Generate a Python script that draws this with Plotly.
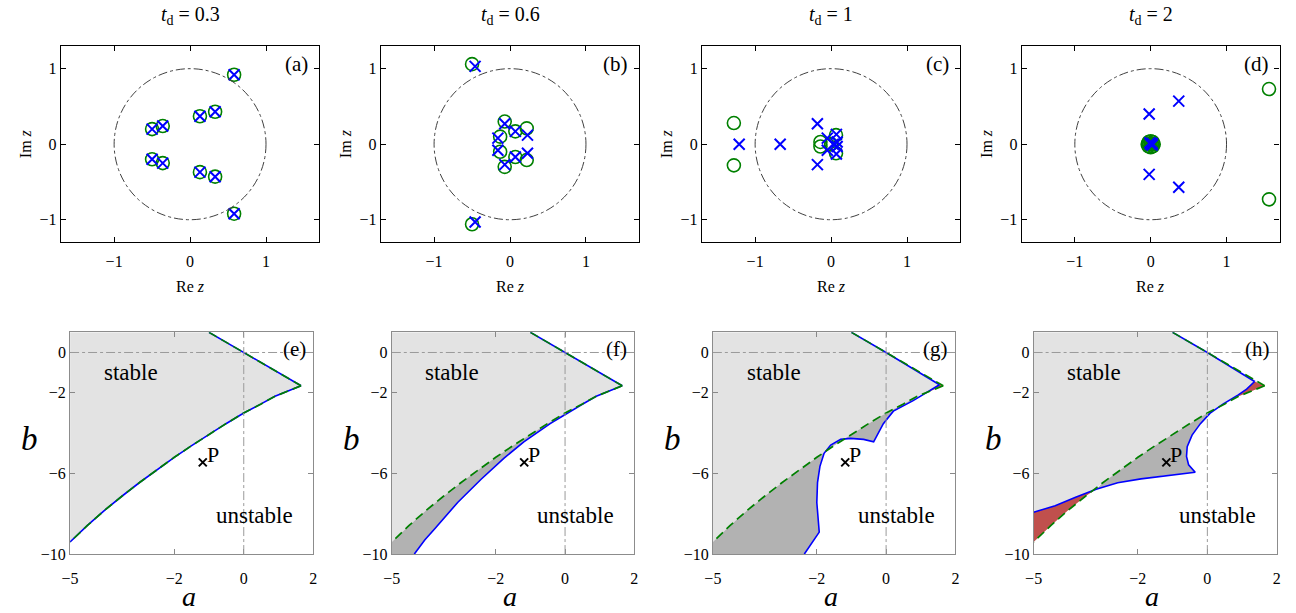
import plotly.graph_objects as go

W, H = 1296, 613
FONT = "Liberation Serif, Times New Roman, DejaVu Serif, serif"

# ---------------- data ----------------
td_values = ["0.3", "0.6", "1", "2"]
tags_top = ["(a)", "(b)", "(c)", "(d)"]
tags_bot = ["(e)", "(f)", "(g)", "(h)"]

# panel (a) t_d = 0.3 : zeros and poles coincide
zeros_a_re = [0.58, 0.33, 0.13, -0.36, -0.50, -0.50, -0.36, 0.13, 0.33, 0.58]
zeros_a_im = [0.92, 0.43, 0.37, 0.24, 0.20, -0.20, -0.25, -0.37, -0.43, -0.92]
poles_a_re = [0.58, 0.33, 0.13, -0.36, -0.50, -0.50, -0.36, 0.13, 0.33, 0.58]
poles_a_im = [0.92, 0.43, 0.37, 0.24, 0.20, -0.20, -0.25, -0.37, -0.43, -0.92]

# panel (b) t_d = 0.6
zeros_b_re = [-0.50, -0.07, 0.07, 0.22, -0.13, -0.13, 0.22, 0.07, -0.07, -0.50]
zeros_b_im = [1.06, 0.30, 0.17, 0.21, 0.10, -0.10, -0.21, -0.17, -0.30, -1.06]
poles_b_re = [-0.46, -0.07, 0.07, 0.23, -0.16, -0.16, 0.23, 0.07, -0.07, -0.46]
poles_b_im = [1.03, 0.27, 0.17, 0.12, 0.08, -0.08, -0.12, -0.17, -0.27, -1.03]

# panel (c) t_d = 1
zeros_c_re = [-1.28, -1.28, -0.14, -0.14, 0.065, 0.065, 0.0]
zeros_c_im = [0.28, -0.28, 0.03, -0.03, 0.12, -0.12, 0.0]
poles_c_re = [-1.21, -0.67, -0.18, -0.18, -0.05, -0.05, 0.07, 0.07, 0.03, 0.08, 0.08]
poles_c_im = [0.0, 0.0, 0.27, -0.27, 0.08, -0.08, 0.13, -0.13, 0.0, 0.03, -0.03]

# panel (d) t_d = 2
zeros_d_re = [1.56, 1.56, 0.04, 0.028, 0.0, -0.028, -0.04, -0.028, 0.0, 0.028, 0.0, 0.02, -0.02]
zeros_d_im = [0.73, -0.73, 0.0, 0.028, 0.04, 0.028, 0.0, -0.028, -0.04, -0.028, 0.0, 0.0, 0.0]
poles_d_re = [-0.02, -0.02, 0.37, 0.37, 0.0, 0.02, 0.02, -0.01]
poles_d_im = [0.40, -0.40, 0.57, -0.57, 0.0, 0.01, -0.01, 0.02]

zeros_re = [zeros_a_re, zeros_b_re, zeros_c_re, zeros_d_re]
zeros_im = [zeros_a_im, zeros_b_im, zeros_c_im, zeros_d_im]
poles_re = [poles_a_re, poles_b_re, poles_c_re, poles_d_re]
poles_im = [poles_a_im, poles_b_im, poles_c_im, poles_d_im]

# stability boundary, no-delay reference (green dashed)
green_a = [1.65, 1.3, 0.9, 0.5, 0.0, -0.5, -1.0, -1.5, -2.0, -2.5, -3.0, -3.5, -4.0, -4.5, -5.0]
green_b = [-1.65, -1.9, -2.17, -2.55, -3.0, -3.52, -4.05, -4.62, -5.2, -5.82, -6.45, -7.12, -7.82, -8.58, -9.4]
upper_a = [-1.0, 0.0, 1.65]
upper_b = [1.0, 0.0, -1.65]

# blue boundaries for each t_d
blue_e_a = green_a
blue_e_b = green_b
blue_f_a = [1.65, 1.3, 0.9, 0.5, 0.0, -0.43, -1.19, -1.76, -2.43, -3.10, -3.76, -4.05, -4.35]
blue_f_b = [-1.65, -1.9, -2.17, -2.57, -3.07, -3.53, -4.43, -5.24, -6.30, -7.44, -8.75, -9.3, -10.0]
blue_g_a = [1.54, 1.2, 0.78, 0.21, -0.08, -0.36, -0.65, -1.03, -1.31, -1.60, -1.79, -1.91, -1.98, -2.0, -1.93, -2.36]
blue_g_b = [-1.6, -1.95, -2.39, -2.91, -3.53, -4.43, -4.31, -4.26, -4.31, -4.59, -5.0, -5.65, -6.46, -7.44, -8.91, -10.0]
blue_h_a = [1.36, 1.13, 0.89, 0.46, 0.08, -0.20, -0.44, -0.58, -0.60, -0.54, -0.35, -0.68, -1.25, -1.91, -2.58, -3.20, -3.81, -4.38, -5.0]
blue_h_b = [-1.44, -1.82, -2.10, -2.55, -3.01, -3.53, -4.10, -4.67, -5.16, -5.57, -5.94, -6.01, -6.10, -6.27, -6.46, -6.79, -7.20, -7.60, -7.93]
blue_upper_tip = [(1.65, -1.65), (1.65, -1.65), (1.54, -1.6), (1.36, -1.44)]

P_a, P_b = [-1.18], [-5.45]

A_MIN, A_MAX, B_MIN, B_MAX = -5.0, 2.0, -10.0, 1.0

# ---------------- layout geometry (pixels) ----------------
top_x = [(52.5, 313.3), (375.7, 636.5), (700, 960.8), (1023, 1283.5)]
top_y = (46.7, 246.0)
bot_x = [(61.7, 307.3), (386.7, 631.7), (711, 956), (1035, 1280.7)]
bot_y = (337.3, 562.3)

def fx(p):
    return p / W

def fy(p):
    return 1 - p / H

BLUE = "#0000ff"
GREEN = "#008000"
LIGHT = "#e3e3e3"
DARK = "#b2b2b2"
RED = "#c0504d"

fig = go.Figure()
layout = dict(width=W, height=H, margin=dict(l=0, r=0, t=0, b=0),
              paper_bgcolor="white", plot_bgcolor="white", showlegend=False,
              font=dict(family=FONT, size=16, color="black"))
annotations = []
shapes = []

tickfont = dict(family=FONT, size=16, color="black")

def txt(text, x, y, size, xref="paper", yref="paper", **kw):
    d = dict(text=text, x=x, y=y, xref=xref, yref=yref, showarrow=False,
             font=dict(family=FONT, size=size, color="black"))
    d.update(kw)
    return d

for i in range(4):
    xa, ya = f"xaxis{i+1}", f"yaxis{i+1}"
    xr, yr = f"x{i+1}", f"y{i+1}"
    layout[xa] = dict(domain=[fx(top_x[i][0]), fx(top_x[i][1])], anchor=yr,
                      range=[-1.7, 1.7], tickvals=[-1, 0, 1], ticks="inside", ticklen=5,
                      tickcolor="black", showline=True, linecolor="black", linewidth=1.3,
                      mirror="ticks", showgrid=False, zeroline=False, tickfont=tickfont,
                      ticklabelstandoff=4)
    layout[ya] = dict(domain=[fy(top_y[1]), fy(top_y[0])], anchor=xr,
                      range=[-1.3, 1.3], tickvals=[-1, 0, 1], ticks="inside", ticklen=5,
                      tickcolor="black", showline=True, linecolor="black", linewidth=1.3,
                      mirror="ticks", showgrid=False, zeroline=False, tickfont=tickfont)
    shapes.append(dict(type="circle", xref=xr, yref=yr, x0=-1, y0=-1, x1=1, y1=1,
                       line=dict(color="#404040", width=1, dash="dashdot")))
    fig.add_trace(go.Scatter(x=zeros_re[i], y=zeros_im[i], mode="markers", xaxis=xr, yaxis=yr,
                             marker=dict(symbol="circle-open", size=13, color=GREEN,
                                         line=dict(width=1.6, color=GREEN))))
    fig.add_trace(go.Scatter(x=poles_re[i], y=poles_im[i], mode="markers", xaxis=xr, yaxis=yr,
                             marker=dict(symbol="x-thin-open", size=11, color=BLUE,
                                         line=dict(width=2, color=BLUE))))
    cx = (top_x[i][0] + top_x[i][1]) / 2
    annotations.append(txt(f"<i>t</i><sub>d</sub> = {td_values[i]}", fx(cx), fy(16), 20,
                           xanchor="center", yanchor="middle"))
    annotations.append(txt("Re <i>z</i>", fx(cx), fy(291), 16, xanchor="center", yanchor="middle"))
    annotations.append(txt("Im <i>z</i>", fx(top_x[i][0] - 35), fy(146), 16, textangle=-90,
                           xanchor="center", yanchor="middle"))
    annotations.append(txt(tags_top[i], fx(top_x[i][1] - 9), fy(top_y[0] + 4), 21,
                           xanchor="right", yanchor="top"))

blues_a = [blue_e_a, blue_f_a, blue_g_a, blue_h_a]
blues_b = [blue_e_b, blue_f_b, blue_g_b, blue_h_b]

for i in range(4):
    k = i + 5
    xa, ya = f"xaxis{k}", f"yaxis{k}"
    xr, yr = f"x{k}", f"y{k}"
    layout[xa] = dict(domain=[fx(bot_x[i][0]), fx(bot_x[i][1])], anchor=yr,
                      range=[A_MIN, A_MAX], tickvals=[-5, -2, 0, 2], ticks="inside", ticklen=5,
                      tickcolor="#888", showline=True, linecolor="#8c8c8c", linewidth=1,
                      mirror="ticks", showgrid=False, zeroline=False, tickfont=tickfont,
                      ticklabelstandoff=10)
    layout[ya] = dict(domain=[fy(bot_y[1]), fy(bot_y[0])], anchor=xr,
                      range=[B_MIN, B_MAX], tickvals=[0, -2, -6, -10], ticks="inside", ticklen=5,
                      tickcolor="#888", showline=True, linecolor="#8c8c8c", linewidth=1,
                      mirror="ticks", showgrid=False, zeroline=False, tickfont=tickfont)
    # stable region (light gray)
    lx = [A_MIN] + upper_a + green_a[1:]
    ly = [B_MAX] + upper_b + green_b[1:]
    fig.add_trace(go.Scatter(x=lx, y=ly, fill="toself", fillcolor=LIGHT, mode="none",
                             xaxis=xr, yaxis=yr, hoverinfo="skip"))
    ba, bb = blues_a[i], blues_b[i]
    if i == 1:
        dx = green_a[4:] + [A_MIN] + ba[4:][::-1]
        dy = green_b[4:] + [B_MIN] + bb[4:][::-1]
        fig.add_trace(go.Scatter(x=dx, y=dy, fill="toself", fillcolor=DARK, mode="none",
                                 xaxis=xr, yaxis=yr, hoverinfo="skip"))
    if i == 2:
        dx = green_a[2:] + [A_MIN] + ba[2:][::-1]
        dy = green_b[2:] + [B_MIN] + bb[2:][::-1]
        fig.add_trace(go.Scatter(x=dx, y=dy, fill="toself", fillcolor=DARK, mode="none",
                                 xaxis=xr, yaxis=yr, hoverinfo="skip"))
        rx = [ba[0], green_a[0], green_a[1], ba[1]]
        ry = [bb[0], green_b[0], green_b[1], bb[1]]
        fig.add_trace(go.Scatter(x=rx, y=ry, fill="toself", fillcolor=RED, mode="none",
                                 xaxis=xr, yaxis=yr, hoverinfo="skip"))
    if i == 3:
        dx = green_a[4:11] + ba[4:16][::-1]
        dy = green_b[4:11] + bb[4:16][::-1]
        fig.add_trace(go.Scatter(x=dx, y=dy, fill="toself", fillcolor=DARK, mode="none",
                                 xaxis=xr, yaxis=yr, hoverinfo="skip"))
        rx = ba[15:] + green_a[11:][::-1]
        ry = bb[15:] + green_b[11:][::-1]
        fig.add_trace(go.Scatter(x=rx, y=ry, fill="toself", fillcolor=RED, mode="none",
                                 xaxis=xr, yaxis=yr, hoverinfo="skip"))
        rx = ba[:3] + green_a[:3][::-1]
        ry = bb[:3] + green_b[:3][::-1]
        fig.add_trace(go.Scatter(x=rx, y=ry, fill="toself", fillcolor=RED, mode="none",
                                 xaxis=xr, yaxis=yr, hoverinfo="skip"))
    # dash-dot axes at a=0 and b=0
    shapes.append(dict(type="line", xref=xr, yref=yr, x0=A_MIN, x1=A_MAX, y0=0, y1=0,
                       line=dict(color="#9a9a9a", width=1, dash="dashdot"), layer="above"))
    shapes.append(dict(type="line", xref=xr, yref=yr, x0=0, x1=0, y0=B_MIN, y1=B_MAX,
                       line=dict(color="#9a9a9a", width=1, dash="dashdot"), layer="above"))
    # blue boundary
    tip = blue_upper_tip[i]
    fig.add_trace(go.Scatter(x=upper_a[:2] + [tip[0]], y=upper_b[:2] + [tip[1]], mode="lines",
                             xaxis=xr, yaxis=yr, line=dict(color=BLUE, width=1.6)))
    fig.add_trace(go.Scatter(x=ba, y=bb, mode="lines", xaxis=xr, yaxis=yr,
                             line=dict(color=BLUE, width=1.6)))
    # green reference
    fig.add_trace(go.Scatter(x=upper_a, y=upper_b, mode="lines", xaxis=xr, yaxis=yr,
                             line=dict(color=GREEN, width=1.6, dash="9px,5px")))
    fig.add_trace(go.Scatter(x=green_a, y=green_b, mode="lines", xaxis=xr, yaxis=yr,
                             line=dict(color=GREEN, width=1.7, dash="9px,5px")))
    # point P
    fig.add_trace(go.Scatter(x=P_a, y=P_b, mode="markers", xaxis=xr, yaxis=yr,
                             marker=dict(symbol="x-thin-open", size=8,
                                         line=dict(width=2, color="black"), color="black")))
    annotations.append(txt("P", P_a[0], P_b[0], 22, xref=xr, yref=yr, xanchor="left",
                           yanchor="middle", xshift=2, yshift=8))
    annotations.append(txt("stable", -3.25, -1.0, 23, xref=xr, yref=yr))
    annotations.append(txt("unstable", 0.3, -8.1, 23, xref=xr, yref=yr))
    annotations.append(txt(tags_bot[i], fx(bot_x[i][1] - 5), fy(bot_y[0] + 3), 21,
                           xanchor="right", yanchor="top"))
    cx = (bot_x[i][0] + bot_x[i][1]) / 2
    annotations.append(txt("<i>a</i>", fx(cx - 3), fy(605), 28, xanchor="center", yanchor="middle"))
    annotations.append(txt("<i>b</i>", fx(bot_x[i][0] - 41), fy(446), 33, xanchor="center",
                           yanchor="middle"))

layout["annotations"] = annotations
layout["shapes"] = shapes
fig.update_layout(**layout)
fig.write_html("out.html")
